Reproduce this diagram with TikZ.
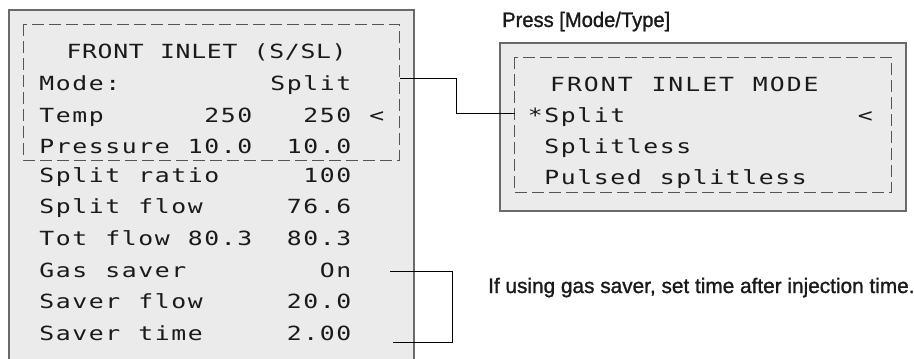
\documentclass[tikz,border=0pt]{standalone}
\usepackage{fontspec}
\setmainfont{Liberation Sans}[FakeStretch=0.96,FakeBold=1.2]
\newfontfamily\notefont{Liberation Sans}[FakeStretch=0.99,FakeBold=1.2]
\newfontfamily\lcdfont{DejaVu Sans Mono}[FakeStretch=1.27]
\definecolor{panelgray}{HTML}{EBEBEB}
\definecolor{framegray}{HTML}{6A6A6A}
\definecolor{dashgray}{HTML}{555555}
\definecolor{inkcol}{HTML}{1A1A1A}
\newlength\lcdcell
\makeatletter
\def\lcd@end{\lcd@end}
\newcommand\lcdrow[2][16.5pt]{\lcdcell=#1\relax\lcd@loop#2\lcd@end}
\def\lcd@loop#1{\ifx#1\lcd@end\else\lcd@cell{#1}\expandafter\lcd@loop\fi}
\def\lcd@cell#1{\ifx#1_\hbox to\lcdcell{}\else\hbox to\lcdcell{\hss#1\hss}\fi}
\makeatother
\begin{document}
\begin{tikzpicture}[x=1pt,y=-1pt,
  framed/.style={draw=framegray, line width=1.2pt},
  dashbox/.style={draw=dashgray, line width=0.8pt, dash pattern=on 12pt off 5pt},
  row/.style={anchor=base west, inner sep=0pt, text=inkcol,
    font=\lcdfont\fontsize{19.5}{20}\selectfont},
  caption/.style={anchor=base west, inner sep=0pt, text=inkcol,
    font=\fontsize{21}{24}\selectfont},
  wire/.style={draw=black, line width=0.9pt}]
\useasboundingbox (0,0) rectangle (914,359);

% left panel
\fill[panelgray] (9,10) rectangle (414,365);
\draw[framed] (9,365) -- (9,10) -- (414,10) -- (414,365);
\draw[dashbox] (23,24) rectangle (399,160);

% right panel
\fill[panelgray] (500,43) rectangle (906,211);
\draw[framed] (500,43) rectangle (906,211);
\draw[dashbox] (514,57) rectangle (891,192);

% left panel text
\node[row] (ltitle) at (66,58)    {\lcdrow[15.6pt]{FRONT_INLET_(S/SL)}};
\node[row] (lmode)  at (38.5,90)  {\lcdrow{Mode:_________Split}};
\node[row] (ltemp)  at (38.5,122) {\lcdrow{Temp______250___250_<}};
\node[row] (lpres)  at (38.5,153) {\lcdrow{Pressure_10.0__10.0}};
\node[row] (lsr)    at (38.5,182) {\lcdrow{Split_ratio_____100}};
\node[row] (lsf)    at (38.5,213) {\lcdrow{Split_flow_____76.6}};
\node[row] (ltot)   at (38.5,245) {\lcdrow{Tot_flow_80.3__80.3}};
\node[row] (lgas)   at (38.5,277) {\lcdrow{Gas_saver________On}};
\node[row] (lsvf)   at (38.5,308) {\lcdrow{Saver_flow_____20.0}};
\node[row] (lsvt)   at (38.5,340) {\lcdrow{Saver_time_____2.00}};

% right panel text
\node[row] (rtitle) at (549,91)  {\lcdrow[16.9pt]{FRONT_INLET_MODE}};
\node[row] (rsplit) at (527,122) {\lcdrow{*Split______________<}};
\node[row] (rsl)    at (527,153) {\lcdrow{_Splitless}};
\node[row] (rpsl)   at (527,184) {\lcdrow{_Pulsed_splitless}};

% captions
\node[caption] (press) at (502,27) {Press [Mode/Type]};
\node[caption, font=\notefont\fontsize{21}{24}\selectfont] (note) at (488,293)
  {If using gas saver, set time after injection time.};

% connectors
\coordinate (modeout) at (400,78);
\coordinate (modein)  at (515,113);
\draw[wire] (modeout) -| (456,113) -- (modein);

\coordinate (gastop) at (390,271);
\coordinate (gasbot) at (393,342);
\draw[wire] (gastop) -- (452,271) -- (452,342) -- (gasbot);
\end{tikzpicture}
\end{document}
